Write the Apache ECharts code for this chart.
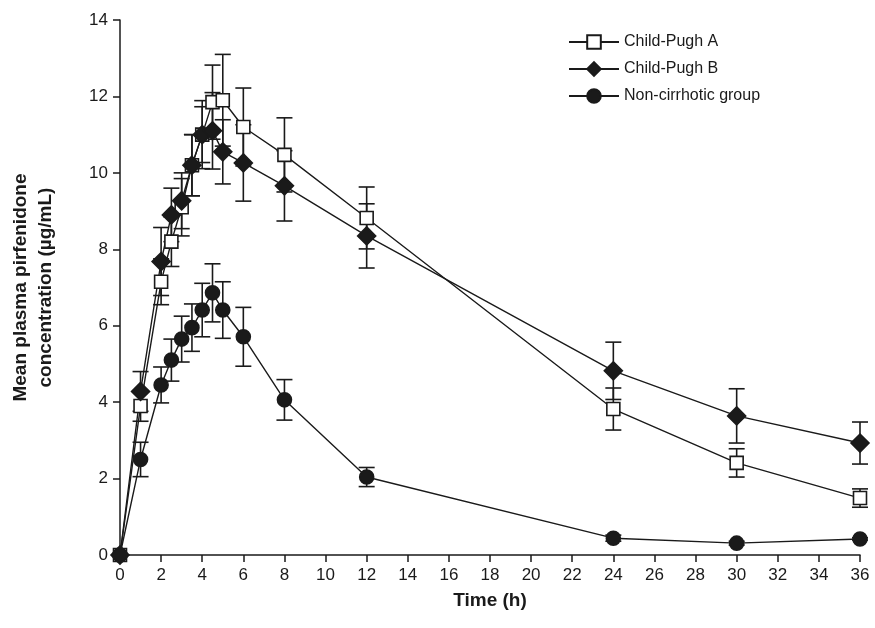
<!DOCTYPE html>
<html>
<head>
<meta charset="utf-8">
<script src="https://cdn.jsdelivr.net/npm/echarts@6/dist/echarts.min.js"></script>
<style>
  html, body { margin: 0; padding: 0; background: #fff; }
  #chart { width: 875px; height: 628px; }
</style>
</head>
<body>
<div id="chart"></div>
<script>
const times = [0, 1, 2, 2.5, 3, 3.5, 4, 4.5, 5, 6, 8, 12, 24, 30, 36];
const xTicks = { min: 0, max: 36, interval: 2 };
const yTicks = { min: 0, max: 14, interval: 2 };

const pughA = [0, 3.9, 7.15, 8.2, 9.1, 10.2, 11.0, 11.85, 11.9, 11.2, 10.47, 8.82, 3.82, 2.41, 1.49];
const pughASd = [0, 0.4, 0.6, 0.65, 0.75, 0.8, 0.89, 0.97, 1.2, 1.02, 0.97, 0.81, 0.55, 0.37, 0.24];
const pughB = [0, 4.28, 7.68, 8.9, 9.27, 10.2, 11.0, 11.1, 10.55, 10.26, 9.66, 8.35, 4.82, 3.64, 2.93];
const pughBSd = [0, 0.52, 0.89, 0.7, 0.73, 0.8, 0.73, 1.0, 0.84, 1.0, 0.92, 0.84, 0.75, 0.71, 0.55];
const nonCirr = [0, 2.5, 4.45, 5.1, 5.65, 5.95, 6.41, 6.86, 6.41, 5.71, 4.06, 2.04, 0.44, 0.31, 0.42];
const nonCirrSd = [0, 0.45, 0.47, 0.55, 0.6, 0.62, 0.7, 0.76, 0.74, 0.77, 0.53, 0.25, 0.08, 0.05, 0.03];

const ink = '#1a1a1a';
const sans = '"Liberation Sans", Arial, sans-serif';

const pairs = vals => times.map((t, i) => [t, vals[i]]);
const bars = (vals, sd) => times.map((t, i) => [t, vals[i] - sd[i], vals[i] + sd[i]]);

// vertical whisker with a cap at each end
const drawBar = (params, api) => {
  const lo = api.coord([api.value(0), api.value(1)]);
  const hi = api.coord([api.value(0), api.value(2)]);
  const half = 8;
  const style = { stroke: ink, lineWidth: 1.6 };
  return {
    type: 'group',
    children: [
      { type: 'line', shape: { x1: lo[0], y1: lo[1], x2: hi[0], y2: hi[1] }, style },
      { type: 'line', shape: { x1: lo[0] - half, y1: lo[1], x2: lo[0] + half, y2: lo[1] }, style },
      { type: 'line', shape: { x1: hi[0] - half, y1: hi[1], x2: hi[0] + half, y2: hi[1] }, style }
    ]
  };
};

const errorSeries = (vals, sd) => ({
  type: 'custom',
  renderItem: drawBar,
  data: bars(vals, sd),
  encode: { x: 0, y: [1, 2] },
  z: 1,
  silent: true
});

const lineSeries = (name, vals, symbol, size, fill) => ({
  name,
  type: 'line',
  data: pairs(vals),
  symbol,
  symbolSize: size,
  showAllSymbol: true,
  lineStyle: { color: ink, width: 1.4 },
  itemStyle: { color: fill, borderColor: ink, borderWidth: 1.6 },
  z: 3
});

const chart = echarts.init(document.getElementById('chart'));
chart.setOption({
  animation: false,
  backgroundColor: '#fff',
  grid: { left: 118, right: 15, top: 20, bottom: 73 },
  legend: {
    orient: 'vertical',
    left: 563,
    top: 29,
    itemWidth: 50,
    itemHeight: 17,
    itemGap: 11,
    textStyle: { fontFamily: sans, fontSize: 16, color: ink },
    data: ['Child-Pugh A', 'Child-Pugh B', 'Non-cirrhotic group']
  },
  xAxis: {
    type: 'value',
    min: xTicks.min,
    max: xTicks.max,
    interval: xTicks.interval,
    name: 'Time (h)',
    nameLocation: 'middle',
    nameGap: 36,
    nameTextStyle: { fontFamily: sans, fontSize: 19, fontWeight: 'bold', color: ink },
    splitLine: { show: false },
    axisLine: { lineStyle: { color: ink, width: 1.5 } },
    axisTick: { inside: false, length: 7, lineStyle: { color: ink, width: 1.5 } },
    axisLabel: { fontFamily: sans, fontSize: 17, color: ink, margin: 12 }
  },
  yAxis: {
    type: 'value',
    min: yTicks.min,
    max: yTicks.max,
    interval: yTicks.interval,
    name: 'Mean plasma pirfenidone\nconcentration (µg/mL)',
    nameLocation: 'middle',
    nameGap: 62,
    nameTextStyle: { fontFamily: sans, fontSize: 19, fontWeight: 'bold', color: ink, lineHeight: 25 },
    splitLine: { show: false },
    axisLine: { show: true, lineStyle: { color: ink, width: 1.5 } },
    axisTick: { show: true, inside: false, length: 7, lineStyle: { color: ink, width: 1.5 } },
    axisLabel: { fontFamily: sans, fontSize: 17, color: ink, margin: 12 }
  },
  series: [
    errorSeries(pughA, pughASd),
    errorSeries(pughB, pughBSd),
    errorSeries(nonCirr, nonCirrSd),
    lineSeries('Child-Pugh A', pughA, 'rect', 13, '#fff'),
    lineSeries('Child-Pugh B', pughB, 'diamond', 18, ink),
    lineSeries('Non-cirrhotic group', nonCirr, 'circle', 14, ink)
  ]
});
</script>
</body>
</html>
